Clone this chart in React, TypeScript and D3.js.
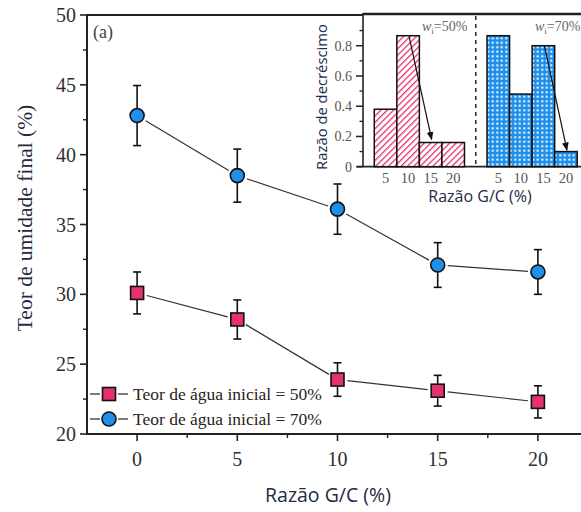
import React from "react";
import * as d3 from "d3";

const ratios = [0, 5, 10, 15, 20];
const mean50 = [30.1, 28.2, 23.9, 23.1, 22.3];
const err50 = [1.5, 1.4, 1.2, 1.1, 1.15];
const mean70 = [42.8, 38.5, 36.1, 32.1, 31.6];
const err70 = [2.15, 1.9, 1.8, 1.6, 1.6];
const yTicks = [20, 25, 30, 35, 40, 45, 50];
const yMinor = [22.5, 27.5, 32.5, 37.5, 42.5, 47.5];
const xMinor = [2.5, 7.5, 12.5, 17.5];
const legendLabels = ["Teor de água inicial = 50%", "Teor de água inicial = 70%"];

const insetCats = ["5", "10", "15", "20"];
const insetRed = [0.38, 0.866, 0.16, 0.16];
const insetBlue = [0.866, 0.48, 0.8, 0.1];
const insetYTicks = [0, 0.2, 0.4, 0.6, 0.8];
const insetYMinor = [0.1, 0.3, 0.5, 0.7, 0.9];

const RED = "#e5326a";
const BLUE = "#1f8fea";
const TXT = "#2f2f2f";
const LABEL = "#232a45";

export default function App() {
  const x = d3.scaleLinear().domain([-2.5, 22.5]).range([87, 588]);
  const y = d3.scaleLinear().domain([20, 50]).range([434, 15]);
  const xi = d3.scaleLinear().domain([-1, 9]).range([363, 588.5]);
  const yi = d3.scaleLinear().domain([0, 1]).range([166.7, 15.45]);
  const bw = xi(1) - xi(0);

  const seg = (means: number[], gap: number) =>
    means.slice(0, -1).map((m, i) => {
      const x1 = x(ratios[i]), y1 = y(m), x2 = x(ratios[i + 1]), y2 = y(means[i + 1]);
      const dx = x2 - x1, dy = y2 - y1, L = Math.hypot(dx, dy);
      const ux = dx / L, uy = dy / L;
      return (
        <line key={i} x1={x1 + ux * gap} y1={y1 + uy * gap} x2={x2 - ux * gap} y2={y2 - uy * gap}
          stroke="#333" strokeWidth={1.2} />
      );
    });

  const errBars = (means: number[], errs: number[]) =>
    means.map((m, i) => {
      const cx = x(ratios[i]);
      return (
        <g key={i} stroke="#111" strokeWidth={1.6}>
          <line x1={cx} x2={cx} y1={y(m + errs[i])} y2={y(m - errs[i])} />
          <line x1={cx - 4} x2={cx + 4} y1={y(m + errs[i])} y2={y(m + errs[i])} />
          <line x1={cx - 4} x2={cx + 4} y1={y(m - errs[i])} y2={y(m - errs[i])} />
        </g>
      );
    });

  const serif = "'Liberation Serif', 'Times New Roman', serif";
  const sans = "'Open Sans', 'Noto Sans', sans-serif";

  return (
    <svg width={581} height={512} style={{ position: "absolute", left: 0, top: 0, background: "#fff" }}>
      <defs>
        <pattern id="hatch" patternUnits="userSpaceOnUse" width={4.5} height={4.5} patternTransform="rotate(45)">
          <rect width={4.5} height={4.5} fill="#fff" />
          <line x1={0} y1={0} x2={0} y2={4.5} stroke={RED} strokeWidth={2.6} />
        </pattern>
        <pattern id="dots" patternUnits="userSpaceOnUse" width={4.5} height={4.5}>
          <rect width={4.5} height={4.5} fill={BLUE} />
          <circle cx={2.25} cy={2.25} r={1.1} fill="#fff" />
        </pattern>
        <marker id="arr" viewBox="0 0 10 10" refX={9} refY={5} markerWidth={7} markerHeight={7} orient="auto">
          <path d="M0,1 L10,5 L0,9 Z" fill="#111" />
        </marker>
      </defs>
      <rect width={581} height={512} fill="#fff" />

      {/* main axes */}
      <line x1={87} x2={581} y1={15} y2={15} stroke="#222" strokeWidth={2} />
      <line x1={87} x2={87} y1={14} y2={435} stroke="#222" strokeWidth={2} />
      <line x1={86} x2={581} y1={434} y2={434} stroke="#222" strokeWidth={2} />
      {yTicks.map((t) => (
        <g key={t}>
          <line x1={80} x2={87} y1={y(t)} y2={y(t)} stroke="#222" strokeWidth={1.6} />
          <text x={76} y={y(t) + 7} textAnchor="end" fontFamily={serif} fontSize={20} fill={TXT}>{t}</text>
        </g>
      ))}
      {yMinor.map((t) => (
        <line key={t} x1={83} x2={87} y1={y(t)} y2={y(t)} stroke="#222" strokeWidth={1.4} />
      ))}
      {ratios.map((t) => (
        <g key={t}>
          <line x1={x(t)} x2={x(t)} y1={434} y2={441} stroke="#222" strokeWidth={1.6} />
          <text x={x(t)} y={466} textAnchor="middle" fontFamily={serif} fontSize={20} fill={TXT}>{t}</text>
        </g>
      ))}
      {xMinor.map((t) => (
        <line key={t} x1={x(t)} x2={x(t)} y1={434} y2={438} stroke="#222" strokeWidth={1.4} />
      ))}
      <text x={328} y={502} textAnchor="middle" fontFamily={sans} fontSize={19.5} fill={LABEL}>Razão G/C (%)</text>
      <text transform="translate(32,218) rotate(-90)" textAnchor="middle" fontFamily={serif} fontSize={21.5} fill={LABEL}>
        Teor de umidade final (%)
      </text>
      <text x={93} y={38} fontFamily={serif} fontSize={18} fill="#444">(a)</text>

      {/* series */}
      {seg(mean50, 10)}
      {seg(mean70, 10)}
      {errBars(mean50, err50)}
      {errBars(mean70, err70)}
      {mean50.map((m, i) => (
        <rect key={i} x={x(ratios[i]) - 6.5} y={y(m) - 6.5} width={13} height={13} fill={RED} stroke="#111" strokeWidth={1.6} />
      ))}
      {mean70.map((m, i) => (
        <circle key={i} cx={x(ratios[i])} cy={y(m)} r={7} fill={BLUE} stroke="#111" strokeWidth={1.6} />
      ))}

      {/* legend */}
      {legendLabels.map((lab, i) => {
        const ly = 394 + i * 25;
        return (
          <g key={lab}>
            <line x1={90} x2={100} y1={ly} y2={ly} stroke="#333" strokeWidth={1.3} />
            <line x1={118} x2={128} y1={ly} y2={ly} stroke="#333" strokeWidth={1.3} />
            {i === 0 ? (
              <rect x={102.5} y={ly - 6.5} width={13} height={13} fill={RED} stroke="#111" strokeWidth={1.6} />
            ) : (
              <circle cx={109} cy={ly} r={7} fill={BLUE} stroke="#111" strokeWidth={1.6} />
            )}
            <text x={133} y={ly + 5.5} fontFamily={serif} fontSize={17.5} fill="#2a2320">{lab}</text>
          </g>
        );
      })}

      {/* inset */}
      <rect x={363} y={15} width={230} height={152} fill="#fff" />
      <line x1={363} x2={581} y1={14} y2={14} stroke="#222" strokeWidth={2.5} />
      <line x1={363} x2={363} y1={13} y2={167} stroke="#222" strokeWidth={1.6} />
      <line x1={357} x2={581} y1={166.7} y2={166.7} stroke="#222" strokeWidth={1.8} />
      {insetRed.map((v, i) => (
        <rect key={i} x={xi(i) - bw / 2} y={yi(v)} width={bw} height={yi(0) - yi(v)} fill="url(#hatch)" stroke="#111" strokeWidth={1.5} />
      ))}
      {insetBlue.map((v, i) => (
        <rect key={i} x={xi(i + 5) - bw / 2} y={yi(v)} width={bw} height={yi(0) - yi(v)} fill="url(#dots)" stroke="#111" strokeWidth={1.5} />
      ))}
      <line x1={xi(4)} x2={xi(4)} y1={16} y2={166} stroke="#333" strokeWidth={1.6} strokeDasharray="4,4" />
      {insetYTicks.map((t) => (
        <g key={t}>
          <line x1={356} x2={363} y1={yi(t)} y2={yi(t)} stroke="#222" strokeWidth={1.5} />
          <text x={352} y={yi(t) + 5} textAnchor="end" fontFamily={serif} fontSize={14} fill="#555">{t === 0 ? "0" : t.toFixed(1)}</text>
        </g>
      ))}
      {insetYMinor.map((t) => (
        <line key={t} x1={359.5} x2={363} y1={yi(t)} y2={yi(t)} stroke="#222" strokeWidth={1.3} />
      ))}
      {insetCats.map((c, i) => (
        <g key={c}>
          <text x={xi(i)} y={183} textAnchor="middle" fontFamily={serif} fontSize={14.5} fill="#555">{c}</text>
          <text x={xi(i + 5)} y={183} textAnchor="middle" fontFamily={serif} fontSize={14.5} fill="#555">{c}</text>
        </g>
      ))}
      <text x={480} y={202} textAnchor="middle" fontFamily={sans} fontSize={16} fill={LABEL}>Razão G/C (%)</text>
      <text transform="translate(327,97) rotate(-90)" textAnchor="middle" fontFamily={sans} fontSize={14.8} fill={LABEL}>
        Razão de decréscimo
      </text>
      <text x={422} y={31} fontFamily={serif} fontSize={14} fill="#666">
        <tspan fontStyle="italic">w</tspan><tspan fontSize={9} dy={3}>i</tspan><tspan dy={-3}>=50%</tspan>
      </text>
      <text x={535} y={31} fontFamily={serif} fontSize={14} fill="#666">
        <tspan fontStyle="italic">w</tspan><tspan fontSize={9} dy={3}>i</tspan><tspan dy={-3}>=70%</tspan>
      </text>
      <line x1={xi(1) + 1} y1={yi(0.86)} x2={xi(2) + 1} y2={yi(0.18)} stroke="#111" strokeWidth={1.2} markerEnd="url(#arr)" />
      <line x1={xi(7) + 1} y1={yi(0.8)} x2={xi(8) + 1} y2={yi(0.11)} stroke="#111" strokeWidth={1.2} markerEnd="url(#arr)" />
    </svg>
  );
}
